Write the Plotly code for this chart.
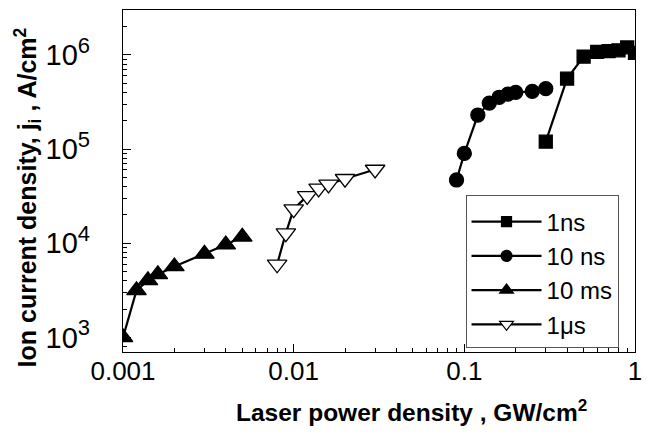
import plotly.graph_objects as go
import numpy as np

# Data
x_1ns = [0.3, 0.4, 0.5, 0.6, 0.7, 0.8, 0.9, 1.0]
y_1ns = [1.2e5, 5.6e5, 9.6e5, 1.08e6, 1.1e6, 1.12e6, 1.2e6, 1.05e6]

x_10ns = [0.09, 0.1, 0.12, 0.14, 0.16, 0.18, 0.2, 0.25, 0.3]
y_10ns = [4.7e4, 9.0e4, 2.3e5, 3.08e5, 3.55e5, 3.84e5, 4.0e5, 4.1e5, 4.38e5]

x_10ms = [0.001, 0.0012, 0.0014, 0.0016, 0.002, 0.003, 0.004, 0.005]
y_10ms = [1.0e3, 3.16e3, 4.03e3, 4.67e3, 5.67e3, 7.7e3, 9.66e3, 1.17e4]

x_1us = [0.008, 0.009, 0.01, 0.012, 0.014, 0.016, 0.02, 0.03]
y_1us = [5.98e3, 1.28e4, 2.3e4, 3.18e4, 3.82e4, 4.22e4, 4.84e4, 6.07e4]

series_names = ["1ns", "10 ns", "10 ms", "1\u03bcs"]

x_tickvals = [0.001, 0.01, 0.1, 1]
x_ticktext = ["0.001", "0.01", "0.1", "1"]
y_tickvals = [1e3, 1e4, 1e5, 1e6]
y_exponents = ["3", "4", "5", "6"]
y_ticktext = ["10<sup><span style='font-size:22px'>%s</span></sup>" % e
              for e in y_exponents]

x_minor = [m * 10.0 ** k for k in (-3, -2, -1) for m in range(2, 10)]
y_minor = [m * 10.0 ** k for k in (2, 3, 4, 5, 6) for m in range(2, 10)]
y_minor = [v for v in y_minor if 700 <= v <= 3e6]

FONT = "Arial, Liberation Sans, sans-serif"

fig = go.Figure()

styles = [
    (x_1ns, y_1ns, "square", "black", 13, 10),
    (x_10ns, y_10ns, "circle", "black", 14, 11),
    (x_10ms, y_10ms, "triangle-up", "black", 17, 12),
    (x_1us, y_1us, "triangle-down", "white", 17, 12),
]

for (xs, ys, sym, fill, size, lsize), name in zip(styles, series_names):
    fig.add_trace(go.Scatter(
        x=xs, y=ys, mode="lines+markers", showlegend=False,
        line=dict(color="black", width=2.2),
        marker=dict(symbol=sym, size=size, color=fill,
                    line=dict(color="black", width=1.3)),
    ))
    fig.add_trace(go.Scatter(
        x=[None], y=[None], mode="lines+markers", name=name,
        line=dict(color="black", width=2.2),
        marker=dict(symbol=sym, size=lsize, color=fill,
                    line=dict(color="black", width=1.2)),
    ))

axis_common = dict(
    type="log", showgrid=False, zeroline=False,
    showline=True, linecolor="black", linewidth=1.3, mirror=True,
    ticks="inside", ticklen=8, tickwidth=1.2, tickcolor="black",
    tickmode="array",
)

fig.update_xaxes(
    **axis_common,
    range=[-3, 0],
    tickvals=x_tickvals, ticktext=x_ticktext,
    tickfont=dict(family=FONT, size=26, color="black"),
    ticklabelstandoff=-4,
    minor=dict(ticks="inside", ticklen=4, tickwidth=1, tickcolor="black",
               tickmode="array", tickvals=x_minor),
)
fig.update_yaxes(
    **axis_common,
    range=[np.log10(700), np.log10(3e6)],
    tickvals=y_tickvals, ticktext=y_ticktext,
    tickfont=dict(family=FONT, size=29, color="black"),
    ticklabelstandoff=26,
    minor=dict(ticks="inside", ticklen=4, tickwidth=1, tickcolor="black",
               tickmode="array", tickvals=y_minor),
)

fig.update_layout(
    width=651, height=433,
    margin=dict(l=123, r=12, t=9, b=81),
    paper_bgcolor="white", plot_bgcolor="white",
    font=dict(family=FONT, color="black"),
    legend=dict(
        x=0.669, y=0.46, xanchor="left", yanchor="top",
        bgcolor="white", bordercolor="#555555", borderwidth=1,
        font=dict(family=FONT, size=24, color="black"),
        title=dict(text=" ", font=dict(size=3)),
        itemwidth=70, tracegroupgap=0,
    ),
    annotations=[
        dict(text="<b>Laser power density , GW/cm<sup>2</sup></b>",
             xref="paper", yref="paper", x=0.5, y=0, xanchor="center",
             yanchor="middle", yshift=-58, xshift=32, showarrow=False,
             font=dict(family=FONT, size=24.5, color="black")),
        dict(text="<b>Ion current density, j<sub>i</sub> , A/cm<sup>2</sup></b>",
             xref="paper", yref="paper", x=0, y=0.452, xanchor="center",
             yanchor="middle", xshift=-95, textangle=-90, showarrow=False,
             font=dict(family=FONT, size=25, color="black")),
    ],
)

fig.write_html("out.html")
